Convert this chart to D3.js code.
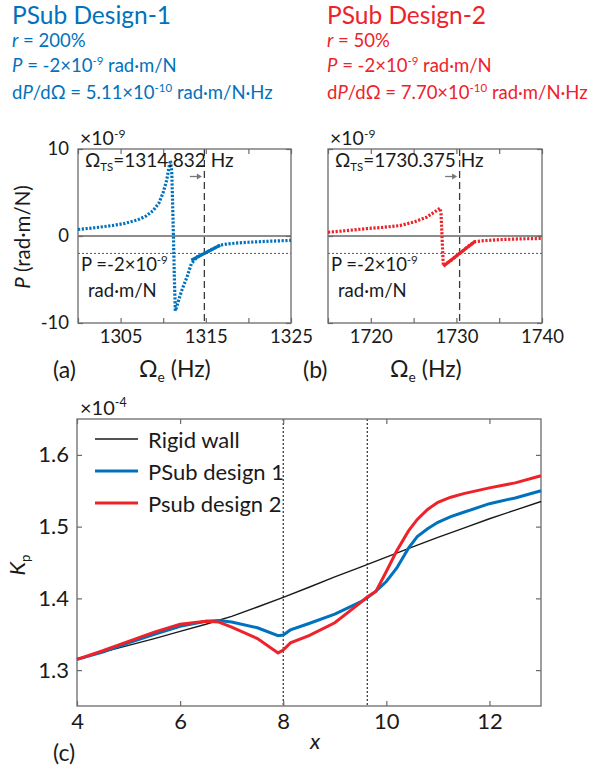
<!DOCTYPE html>
<html><head><meta charset="utf-8">
<script src="https://cdn.jsdelivr.net/npm/d3@7"></script>
<style>
body{margin:0;background:#fff}
text{font-family:Lato,"Open Sans",sans-serif}
</style>
</head><body>
<svg id="c" width="594" height="772"></svg>
<script>
// ---------------- data ----------------
const BLUE = "#0072BD", RED = "#EE2229", INK = "#1a1a1a", FRAME = "#6b6b6b";

// Panel (a): PSub design 1, P (x1e-9 rad·m/N) vs Omega_e (Hz)
const omegaA = [1300,1302,1304,1305.5,1307,1308,1308.8,1309.5,1310,1310.4,1310.7,1310.85,1311.0,1311.1,1311.2,1311.3,1311.42,1311.6,1311.9,1312.2,1312.8,1313.3,1314,1315,1316,1316.7,1317.5,1318.5,1320,1322.5,1325];
const pA     = [0.75,0.95,1.2,1.45,1.85,2.3,2.9,3.8,5.0,6.4,8.0,8.7,7.5,4.0,0.0,-4.5,-8.6,-8.1,-7.1,-6.2,-4.7,-3.2,-2.4,-1.9,-1.4,-1.05,-0.92,-0.82,-0.72,-0.6,-0.5];
const omegaTS_A = 1314.832, slopeA = 0.511, tangentA = [1313.3, 1316.7];
const xTicksA = [1300,1305,1310,1315,1320,1325], xLabelsA = [1305,1315,1325];

// Panel (b): PSub design 2
const omegaB = [1715,1717,1719.5,1721.5,1723.4,1725,1726.5,1727.5,1728.1,1728.2,1728.3,1728.38,1728.47,1729.5,1730.5,1731.5,1732.2,1733,1735,1737.5,1740];
const pB     = [0.43,0.6,0.85,1.0,1.2,1.6,2.15,2.8,3.2,2.6,0.5,-1.5,-3.4,-2.7,-1.9,-1.1,-0.65,-0.55,-0.42,-0.33,-0.28];
const omegaTS_B = 1730.375, slopeB = 0.770, tangentB = [1728.47, 1732.2];
const xTicksB = [1715,1720,1725,1730,1735,1740], xLabelsB = [1720,1730,1740];

const yTicksAB = [-10,0,10];
const pTarget = -2;

// Panel (c): Kp (x1e-4) vs x
const xRigid = [4,4.5,5,5.5,6,6.5,6.75,7,7.5,8,8.5,9,9.5,10,10.5,11,11.5,12,12.5,13];
const kRigid = [1.316,1.325,1.3345,1.344,1.354,1.364,1.3695,1.375,1.388,1.4015,1.4155,1.430,1.4435,1.4575,1.4715,1.485,1.498,1.511,1.523,1.535];
const xDesign  = [4,4.5,5,5.5,6,6.5,6.75,7,7.5,7.9,8.0,8.14,8.5,9,9.5,9.63,9.8,10,10.2,10.43,10.6,10.8,11,11.25,11.5,12,12.5,13];
const kDesign1 = [1.315,1.325,1.338,1.350,1.361,1.368,1.369,1.367,1.359,1.348,1.349,1.356,1.365,1.378,1.395,1.401,1.410,1.4235,1.442,1.470,1.486,1.497,1.506,1.514,1.520,1.532,1.540,1.550];
const kDesign2 = [1.315,1.327,1.340,1.353,1.364,1.368,1.367,1.360,1.344,1.324,1.328,1.338,1.348,1.366,1.394,1.402,1.410,1.4375,1.466,1.494,1.510,1.524,1.534,1.541,1.546,1.554,1.561,1.571];
const xTicksC = [4,6,8,10,12], yTicksC = [1.3,1.4,1.5,1.6];
const vLinesC = [8, 9.63];
const legendLabels = ["Rigid wall","PSub design 1","Psub design 2"];

// ---------------- helpers ----------------
const svg = d3.select("#c");
function rich(parent, x, y, segs, size, fill, anchor){
  const t = parent.append("text").attr("x",x).attr("y",y).attr("font-size",size)
    .attr("fill",fill).attr("text-anchor",anchor||"start");
  let shift = 0;
  segs.forEach(seg=>{
    const s = seg[0], st = seg[1]||"";
    const ts = t.append("tspan").text(s);
    let target = 0;
    if(st.includes("sup")){ target = -size*0.38; ts.attr("font-size", size*0.62); }
    if(st.includes("sub")){ target = size*0.22; ts.attr("font-size", size*0.6); }
    if(st.includes("i")) ts.attr("font-style","italic");
    if(target !== shift){ ts.attr("dy", target - shift); shift = target; }
  });
  return t;
}
function styleAxis(g, size){
  g.select(".domain").remove();
  g.selectAll("line").attr("stroke", FRAME).attr("stroke-width",1.2);
  g.selectAll("text").attr("font-size", size).attr("fill", INK).attr("font-family","Lato, 'Open Sans', sans-serif");
}

// ---------------- header texts ----------------
function header(x, color, title, r, dpdo){
  rich(svg, x, 24, [[title]], 24.5, color);
  rich(svg, x, 47, [["r","i"],[" = "+r]], 18.5, color);
  rich(svg, x, 72, [["P","i"],[" = -2×10"],["-9","sup"],[" rad·m/N"]], 18.5, color);
  rich(svg, x, 99, [["d"],["P","i"],["/dΩ = "+dpdo+"×10"],["-10","sup"],[" rad·m/N·Hz"]], 18.5, color);
}
header(12, BLUE, "PSub Design-1", "200%", "5.11");
header(327, RED, "PSub Design-2", "50%", "7.70");

// ---------------- panels (a),(b) ----------------
function pPanel(opt){
  const x = d3.scaleLinear().domain(opt.dom).range([opt.x0, opt.x1]);
  const y = d3.scaleLinear().domain([-10,10]).range([323,149]);
  const g = svg.append("g");
  g.append("line").attr("x1",opt.x0).attr("x2",opt.x1).attr("y1",y(0)).attr("y2",y(0))
    .attr("stroke",INK).attr("stroke-width",1.2);
  g.append("line").attr("x1",opt.x0).attr("x2",opt.x1).attr("y1",y(pTarget)).attr("y2",y(pTarget))
    .attr("stroke","#555").attr("stroke-width",1).attr("stroke-dasharray","2 2");
  g.append("line").attr("x1",x(opt.ts)).attr("x2",x(opt.ts)).attr("y1",149).attr("y2",323)
    .attr("stroke","#3a3a3a").attr("stroke-width",1.3).attr("stroke-dasharray","7 4");
  const ax = d3.axisBottom(x).tickValues(opt.ticks).tickSize(-5).tickPadding(7)
    .tickFormat(d=> opt.labels.includes(d) ? d : "");
  styleAxis(g.append("g").attr("transform","translate(0,323)").call(ax), 18.5);
  styleAxis(g.append("g").attr("transform","translate(0,149)").call(d3.axisTop(x).tickValues(opt.ticks).tickSize(-5).tickFormat("")), 18);
  const ay = d3.axisLeft(y).tickValues(yTicksAB).tickSize(-5).tickPadding(9)
    .tickFormat(d=> opt.ylabels ? d : "");
  styleAxis(g.append("g").attr("transform",`translate(${opt.x0},0)`).call(ay), 18.5);
  styleAxis(g.append("g").attr("transform",`translate(${opt.x1},0)`).call(d3.axisRight(y).tickValues(yTicksAB).tickSize(-5).tickFormat("")), 18);
  g.append("rect").attr("x",opt.x0).attr("y",149).attr("width",opt.x1-opt.x0).attr("height",174)
    .attr("fill","none").attr("stroke",FRAME).attr("stroke-width",1.3);
  const line = d3.line().x((d,i)=>x(opt.om[i])).y(d=>y(d));
  g.append("path").datum(opt.p).attr("d",line).attr("fill","none").attr("stroke",opt.color)
    .attr("stroke-width",3.2).attr("stroke-dasharray","2.2 1.6");
  const tan = d3.line().x(d=>x(d)).y(d=>y(pTarget + opt.slope*(d-opt.ts)));
  g.append("path").datum(opt.tan).attr("d",tan).attr("fill","none").attr("stroke",opt.color)
    .attr("stroke-width",3.2);
  rich(g, opt.x0+2, 145, [["×10"],["-9","sup"]], 19.5, INK);
  rich(g, opt.x0+7, 167, [["Ω"],["TS","sub"],["="+opt.tsText+" Hz"]], 19, INK);
  const ay0 = 176.5, ax1 = x(opt.ts)-2.5;
  g.append("line").attr("x1",ax1-12).attr("x2",ax1-4).attr("y1",ay0).attr("y2",ay0).attr("stroke","#777").attr("stroke-width",1.3);
  g.append("path").attr("d",`M${ax1},${ay0} l-5,-3 l0,6 z`).attr("fill","#777");
  rich(g, opt.x0+3, 271, [["P =-2×10"],["-9","sup"]], 18.5, INK);
  rich(g, opt.x0+10, 297, [["rad·m/N"]], 18.5, INK);
  rich(g, opt.xl, 377, [["Ω"],["e","sub"],[" (Hz)"]], 23, INK);
  rich(g, opt.x0-25, 378, [[opt.tag]], 23, INK);
}
pPanel({dom:[1300,1325], x0:78, x1:291, ts:omegaTS_A, tsText:"1314.832", slope:slopeA, tan:tangentA,
  om:omegaA, p:pA, color:BLUE, ticks:xTicksA, labels:xLabelsA, ylabels:true, xl:139, tag:"(a)"});
pPanel({dom:[1715,1740], x0:328, x1:542, ts:omegaTS_B, tsText:"1730.375", slope:slopeB, tan:tangentB,
  om:omegaB, p:pB, color:RED, ticks:xTicksB, labels:xLabelsB, ylabels:false, xl:390, tag:"(b)"});
const yl = svg.append("g").attr("transform","translate(30,237) rotate(-90)");
rich(yl, 0, 0, [["P","i"],[" (rad·m/N)"]], 20.5, INK, "middle");

// ---------------- panel (c) ----------------
const xC = d3.scaleLinear().domain([4,13]).range([77,541]);
const yC = d3.scaleLinear().domain([1.25,1.65]).range([706,419]);
const gc = svg.append("g");
vLinesC.forEach(v=>{
  gc.append("line").attr("x1",xC(v)).attr("x2",xC(v)).attr("y1",419).attr("y2",706)
    .attr("stroke",INK).attr("stroke-width",1.1).attr("stroke-dasharray","2 2");
});
styleAxis(gc.append("g").attr("transform","translate(0,706)").call(d3.axisBottom(xC).tickValues(xTicksC).tickSize(-5).tickPadding(7)), 22);
styleAxis(gc.append("g").attr("transform","translate(0,419)").call(d3.axisTop(xC).tickValues(xTicksC).tickSize(-5).tickFormat("")), 22);
styleAxis(gc.append("g").attr("transform","translate(77,0)").call(d3.axisLeft(yC).tickValues(yTicksC).tickSize(-5).tickPadding(8).tickFormat(d3.format(".1f"))), 22);
styleAxis(gc.append("g").attr("transform","translate(541,0)").call(d3.axisRight(yC).tickValues(yTicksC).tickSize(-5).tickFormat("")), 22);
gc.append("rect").attr("x",77).attr("y",419).attr("width",464).attr("height",287)
  .attr("fill","none").attr("stroke",FRAME).attr("stroke-width",1.3);
const lineC = (xs)=> d3.line().x((d,i)=>xC(xs[i])).y(d=>yC(d));
gc.append("path").datum(kRigid).attr("d",lineC(xRigid)).attr("fill","none").attr("stroke",INK).attr("stroke-width",1.4);
gc.append("path").datum(kDesign1).attr("d",lineC(xDesign)).attr("fill","none").attr("stroke",BLUE).attr("stroke-width",3);
gc.append("path").datum(kDesign2).attr("d",lineC(xDesign)).attr("fill","none").attr("stroke",RED).attr("stroke-width",3);
const legColors = [INK, BLUE, RED], legW = [1.6, 3.2, 3.2];
legendLabels.forEach((lab,i)=>{
  const yy = 439 + i*32;
  gc.append("line").attr("x1",95).attr("x2",138).attr("y1",yy).attr("y2",yy).attr("stroke",legColors[i]).attr("stroke-width",legW[i]);
  rich(gc, 148, yy+9, [[lab]], 22, INK);
});
rich(gc, 80, 415, [["×10"],["-4","sup"]], 20, INK);
const kl = gc.append("g").attr("transform","translate(25,565) rotate(-90)");
rich(kl, 0, 0, [["K","i"],["p","sub"]], 22, INK, "middle");
rich(gc, 315, 749, [["x","i"]], 22, INK, "middle");
rich(gc, 53, 761, [["(c)"]], 23, INK);
</script>
</body></html>
